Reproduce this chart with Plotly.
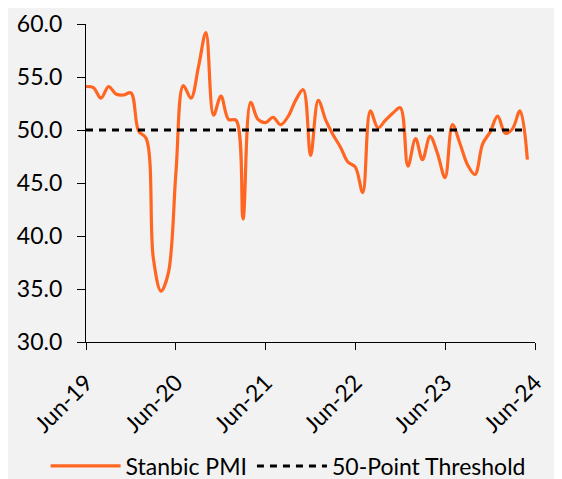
import pandas as pd
import plotly.graph_objects as go

# Monthly readings, starting Jun-19 (60 months)
start_month = "2019-06-01"
pmi_values = [
    54.1, 54.0, 53.0, 54.1, 53.4, 53.3, 53.5, 49.9, 49.2, 37.9,
    34.8, 36.5, 46.0, 54.2, 53.0, 56.0, 59.2, 51.4, 53.2, 51.0,
    50.9, 41.6, 52.6, 51.0, 50.7, 51.2, 50.5, 51.3, 52.8, 53.8,
    47.6, 52.8, 50.9, 49.6, 48.4, 47.0, 46.5, 44.1, 51.8, 50.2,
    50.9, 51.6, 52.1, 46.6, 49.2, 47.2, 49.4, 47.8, 45.5, 50.5,
    48.7, 46.7, 45.8, 48.7, 49.8, 51.3, 49.7, 50.1, 51.8, 47.2,
]
THRESHOLD = 50.0
tick_dates = ["2019-06-01", "2020-06-01", "2021-06-01", "2022-06-01", "2023-06-01", "2024-06-01"]
tick_labels = ["Jun-19", "Jun-20", "Jun-21", "Jun-22", "Jun-23", "Jun-24"]
y_ticks = [30, 35, 40, 45, 50, 55, 60]

months = pd.date_range(start_month, periods=len(pmi_values), freq="MS")
threshold = [THRESHOLD] * len(pmi_values)

fig = go.Figure()
fig.add_trace(go.Scatter(
    x=months, y=pmi_values, name="Stanbic PMI", mode="lines",
    line=dict(color="#FF6622", width=3.2, shape="spline", smoothing=1.0),
))
fig.add_trace(go.Scatter(
    x=months, y=threshold, name="50-Point Threshold", mode="lines",
    line=dict(color="black", width=3, dash="7px,6px"),
))

fig.update_layout(
    width=554, height=471,
    margin=dict(l=78, r=27, t=16, b=136.5, autoexpand=False),
    paper_bgcolor="#F2F2F2", plot_bgcolor="#F2F2F2",
    font=dict(family="Lato", size=23, color="black"),
    showlegend=True,
    legend=dict(orientation="h", x=-0.09, xanchor="left", y=-0.39, yanchor="middle",
                bgcolor="rgba(0,0,0,0)", font=dict(size=23), tracegroupgap=0,
                itemwidth=70),
)
fig.update_xaxes(
    range=[tick_dates[0], tick_dates[-1]], automargin=False,
    tickvals=tick_dates, ticktext=tick_labels, tickangle=-45,
    showline=True, linecolor="black", linewidth=1.3,
    ticks="outside", ticklen=7, tickwidth=1.3, tickcolor="black",
    ticklabelstandoff=10,
    showgrid=False, zeroline=False,
)
fig.update_yaxes(
    range=[30, 60], tickvals=y_ticks, tickformat=".1f", automargin=False,
    showline=True, linecolor="black", linewidth=1.3,
    ticks="outside", ticklen=8, tickwidth=1.3, tickcolor="black",
    ticklabelstandoff=10,
    showgrid=False, zeroline=False,
)

fig.write_html("out.html")
